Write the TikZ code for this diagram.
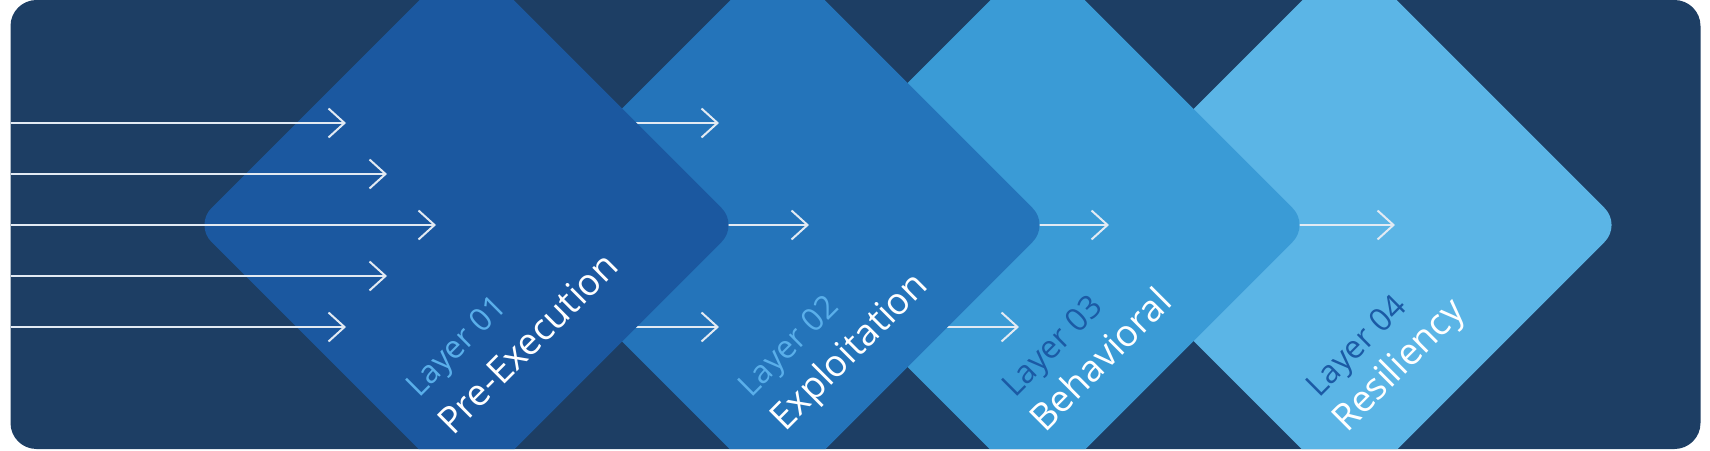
\documentclass[tikz,border=0pt]{standalone}
\usepackage{fontspec}
\setmainfont{Open Sans}
\usetikzlibrary{arrows.meta,shapes.geometric}
\definecolor{bg}{HTML}{1D3E64}
\definecolor{dA}{HTML}{1B58A0}
\definecolor{dB}{HTML}{2474BA}
\definecolor{dC}{HTML}{3A9BD6}
\definecolor{dD}{HTML}{5BB5E6}
\definecolor{lightlbl}{HTML}{5AAFEA}
\definecolor{darklbl}{HTML}{1B5AA5}
\definecolor{arrowc}{HTML}{E2EAF3}
\begin{document}
\begin{tikzpicture}[x=1pt,y=1pt,
  layerbox/.style={diamond, aspect=1, minimum width=544pt, minimum height=544pt,
    inner sep=0pt, outer sep=0pt, rounded corners=24pt, draw=none},
  flow/.style={draw=arrowc, line width=2pt,
    -{Straight Barb[length=16pt,width=29pt]}},
  lbl/.style={rotate=45, anchor=base west, inner sep=0pt, outer sep=0pt,
    font=\fontsize{32}{36}\selectfont},
  ttl/.style={rotate=45, anchor=base west, inner sep=0pt, outer sep=0pt,
    text=white, font=\fontsize{37}{42}\selectfont}]
\useasboundingbox (0,0) rectangle (1710,450);
\begin{scope}
\clip[rounded corners=26pt] (10.5,1) rectangle (1700.5,450);
\fill[bg] (0,0) rectangle (1710,450);
% layer 4
\node[layerbox, fill=dD] (d4) at (1349.5,225) {};
\coordinate (s4a) at (1290,225);
\coordinate (e4a) at (1395,225);
\draw[flow] (s4a) -- (e4a);
% layer 3
\node[layerbox, fill=dC] (d3) at (1037.5,225) {};
\coordinate (s3a) at (1030,225);
\coordinate (e3a) at (1109,225);
\coordinate (s3b) at (940,123);
\coordinate (e3b) at (1019,123);
\draw[flow] (s3a) -- (e3a);
\draw[flow] (s3b) -- (e3b);
% layer 2
\node[layerbox, fill=dB] (d2) at (777.5,225) {};
\coordinate (s2a) at (630,327);
\coordinate (e2a) at (719,327);
\coordinate (s2b) at (720,225);
\coordinate (e2b) at (809,225);
\coordinate (s2c) at (630,123);
\coordinate (e2c) at (719,123);
\draw[flow] (s2a) -- (e2a);
\draw[flow] (s2b) -- (e2b);
\draw[flow] (s2c) -- (e2c);
% layer 1
\node[layerbox, fill=dA] (d1) at (466.5,225) {};
\coordinate (s1a) at (10.5,327);
\coordinate (e1a) at (346,327);
\coordinate (s1b) at (10.5,276);
\coordinate (e1b) at (387,276);
\coordinate (s1c) at (10.5,225);
\coordinate (e1c) at (436,225);
\coordinate (s1d) at (10.5,174);
\coordinate (e1d) at (387,174);
\coordinate (s1e) at (10.5,123);
\coordinate (e1e) at (346,123);
\draw[flow] (s1a) -- (e1a);
\draw[flow] (s1b) -- (e1b);
\draw[flow] (s1c) -- (e1c);
\draw[flow] (s1d) -- (e1d);
\draw[flow] (s1e) -- (e1e);
\end{scope}
% labels
\node[lbl, text=lightlbl] (l1) at (419,52) {Layer 01};
\node[ttl] (t1) at (453,14) {Pre-Execution};
\node[lbl, text=lightlbl] (l2) at (751,52) {Layer 02};
\node[ttl] (t2) at (785,18) {Exploitation};
\node[lbl, text=darklbl] (l3) at (1015,52) {Layer 03};
\node[ttl] (t3) at (1045,17) {Behavioral};
\node[lbl, text=darklbl] (l4) at (1319,52) {Layer 04};
\node[ttl] (t4) at (1347,17) {Resiliency};
\end{tikzpicture}
\end{document}
